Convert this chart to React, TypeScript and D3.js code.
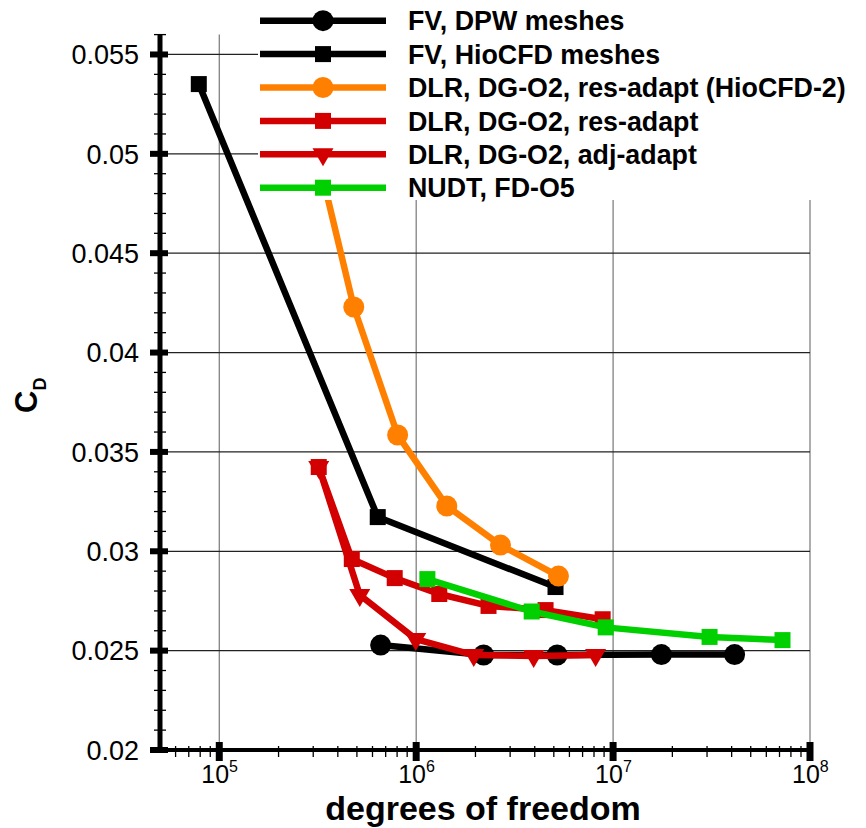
import React from "react";
import * as d3 from "d3";

const W = 866, H = 828;

// Data (degrees of freedom, C_D)
const dpwDof = [6.6e5, 2.2e6, 5.2e6, 1.76e7, 4.14e7];
const dpwCd = [0.02528, 0.02478, 0.02478, 0.0248, 0.0248];

const hioDof = [7.87e4, 6.38e5, 5.1e6];
const hioCd = [0.05351, 0.03172, 0.0282];

const orgDof = [3.02e5, 4.82e5, 8.05e5, 1.43e6, 2.68e6, 5.28e6];
const orgCd = [0.0507, 0.04229, 0.03585, 0.03228, 0.03031, 0.02875];

const resDof = [3.2e5, 4.71e5, 7.78e5, 1.31e6, 2.33e6, 4.54e6, 8.85e6];
const resCd = [0.03424, 0.02961, 0.02865, 0.02785, 0.02725, 0.02704, 0.02658];

const adjDof = [3.2e5, 5.17e5, 9.95e5, 1.96e6, 3.95e6, 8.15e6];
const adjCd = [0.03424, 0.0278, 0.02558, 0.02478, 0.02473, 0.02478];

const nudtDof = [1.14e6, 3.86e6, 9.17e6, 3.09e7, 7.25e7];
const nudtCd = [0.0286, 0.02697, 0.02617, 0.02569, 0.02553];

const yTicks = [0.02, 0.025, 0.03, 0.035, 0.04, 0.045, 0.05, 0.055];
const yTickLabels = ["0.02", "0.025", "0.03", "0.035", "0.04", "0.045", "0.05", "0.055"];
const xDecades = [1e5, 1e6, 1e7, 1e8];
const xExponents = ["5", "6", "7", "8"];

const seriesNames = [
  "FV, DPW meshes",
  "FV, HioCFD meshes",
  "DLR, DG-O2, res-adapt (HioCFD-2)",
  "DLR, DG-O2, res-adapt",
  "DLR, DG-O2, adj-adapt",
  "NUDT, FD-O5",
];
const seriesColors = ["#000000", "#000000", "#FF8000", "#D20000", "#D20000", "#00D000"];
const seriesMarkers = ["circle", "square", "circle", "square", "triangle", "square"];
const seriesDof = [dpwDof, hioDof, orgDof, resDof, adjDof, nudtDof];
const seriesCd = [dpwCd, hioCd, orgCd, resCd, adjCd, nudtCd];

const x = d3.scaleLog().domain([5e4, 1e8]).range([160, 810]);
const y = d3.scaleLinear().domain([0.02, 0.056]).range([750, 34.6]);

function Marker({ kind, cx, cy, color }: { kind: string; cx: number; cy: number; color: string }) {
  if (kind === "circle") return <circle cx={cx} cy={cy} r={10.5} fill={color} />;
  if (kind === "square") return <rect x={cx - 8} y={cy - 8} width={16} height={16} fill={color} />;
  const s = 10.5;
  return (
    <path
      d={`M${cx - s},${cy - 6} L${cx + s},${cy - 6} L${cx},${cy + 12} Z`}
      fill={color}
    />
  );
}

export default function App() {
  const font = "'Liberation Sans', Arial, Helvetica, sans-serif";
  const line = d3
    .line<[number, number]>()
    .x((d) => x(d[0]))
    .y((d) => y(d[1]));

  // minor ticks
  const xMinor: number[] = [];
  for (let e = 4; e < 8; e++) {
    for (let m = 2; m <= 9; m++) {
      const v = m * Math.pow(10, e);
      if (v > 5e4 && v < 1e8) xMinor.push(v);
    }
  }
  const yMinor: number[] = [];
  for (let i = 0; i <= 36; i++) {
    const v = 0.02 + i * 0.001;
    if (i % 5 !== 0) yMinor.push(v);
  }

  const legendY0 = 20.7;
  const legendDy = 33.4;

  return (
    <svg width={W} height={H} style={{ display: "block", position: "absolute", left: 0, top: 0 }} fontFamily={font}>
      <rect x={0} y={0} width={W} height={H} fill="#fff" />
      {/* grid */}
      {xDecades.map((d, i) => (
        <line key={"gx" + i} x1={x(d)} x2={x(d)} y1={y(0.056)} y2={750} stroke="#777" strokeWidth={1.2} />
      ))}
      {yTicks.slice(1).map((v, i) => (
        <line key={"gy" + i} x1={160} x2={810} y1={y(v)} y2={y(v)} stroke="#222" strokeWidth={1.2} />
      ))}

      {/* series */}
      {seriesNames.map((name, si) => {
        const pts = seriesDof[si].map((d, j) => [d, seriesCd[si][j]] as [number, number]);
        return (
          <g key={name}>
            <path d={line(pts) || ""} fill="none" stroke={seriesColors[si]} strokeWidth={6.5} strokeLinejoin="round" />
            {pts.map((p, j) => (
              <Marker key={j} kind={seriesMarkers[si]} cx={x(p[0])} cy={y(p[1])} color={seriesColors[si]} />
            ))}
          </g>
        );
      })}

      {/* legend */}
      <rect x={258} y={0} width={W - 258} height={200} fill="#fff" />
      {seriesNames.map((name, i) => {
        const ly = legendY0 + i * legendDy;
        return (
          <g key={"lg" + i}>
            <line x1={260} x2={386} y1={ly} y2={ly} stroke={seriesColors[i]} strokeWidth={6.5} />
            <Marker kind={seriesMarkers[i]} cx={323} cy={ly} color={seriesColors[i]} />
            <text x={408} y={ly} dy="0.36em" fontSize={26.8} fontWeight="bold" fill="#000">
              {name}
            </text>
          </g>
        );
      })}

      {/* axes */}
      <line x1={160} x2={160} y1={y(0.056)} y2={752} stroke="#000" strokeWidth={5} />
      <line x1={158} x2={810} y1={750} y2={750} stroke="#000" strokeWidth={4} />
      {yMinor.map((v, i) => (
        <line key={"ym" + i} x1={154} x2={166} y1={y(v)} y2={y(v)} stroke="#000" strokeWidth={1.3} />
      ))}
      {yTicks.map((v, i) => (
        <line key={"yM" + i} x1={150} x2={168} y1={y(v)} y2={y(v)} stroke="#000" strokeWidth={6} />
      ))}
      {xMinor.map((v, i) => (
        <line key={"xm" + i} x1={x(v)} x2={x(v)} y1={746} y2={757} stroke="#000" strokeWidth={1.3} />
      ))}
      {xDecades.map((v, i) => (
        <line key={"xM" + i} x1={x(v)} x2={x(v)} y1={742} y2={761} stroke="#000" strokeWidth={7} />
      ))}

      {/* tick labels */}
      {yTicks.map((v, i) => (
        <text key={"yl" + i} x={139} y={y(v)} dy="0.36em" textAnchor="end" fontSize={27} fill="#000">
          {yTickLabels[i]}
        </text>
      ))}
      {xDecades.map((v, i) => (
        <text key={"xl" + i} x={x(v) - 18} y={783} fontSize={25} fill="#000">
          10
          <tspan dy={-11} fontSize={16}>
            {xExponents[i]}
          </tspan>
        </text>
      ))}

      {/* axis titles */}
      <text x={483} y={820} textAnchor="middle" fontSize={34} fontWeight="bold" fill="#000">
        degrees of freedom
      </text>
      <g transform="translate(37,413) rotate(-90)">
        <text x={0} y={0} fontSize={31} fontWeight="bold" fill="#000">
          C
          <tspan dy={9} fontSize={18}>
            D
          </tspan>
        </text>
      </g>
    </svg>
  );
}
